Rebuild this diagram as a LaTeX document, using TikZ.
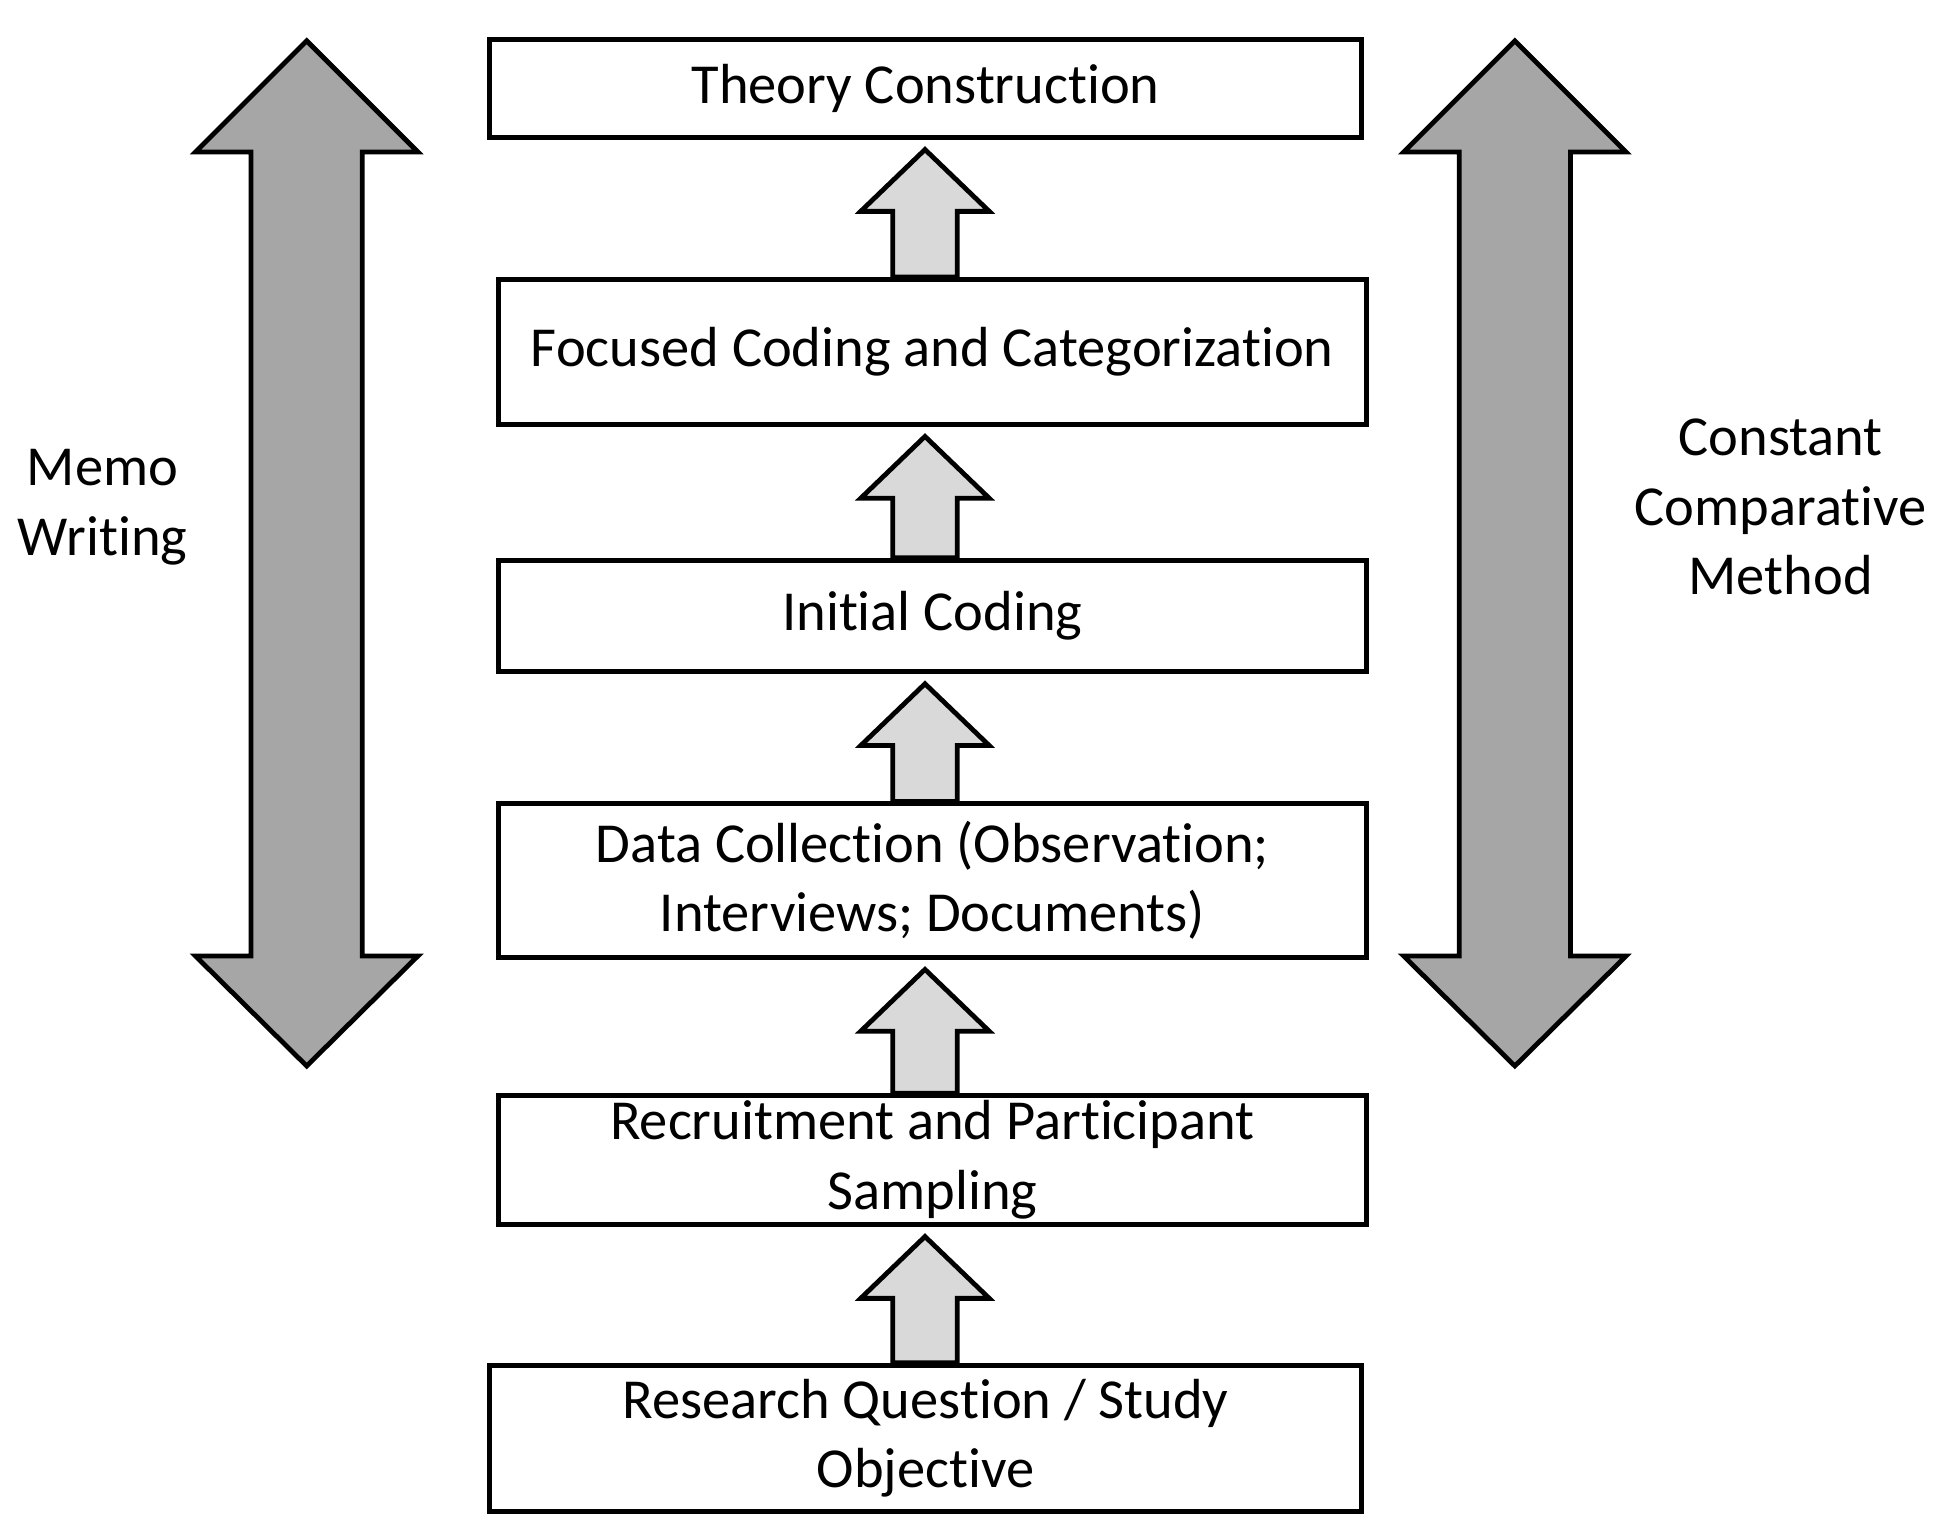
\documentclass[tikz,border=0pt]{standalone}
\usepackage{fontspec}
\setmainfont{Carlito}[Ligatures=NoCommon]
\usetikzlibrary{calc}
\begin{document}
\begin{tikzpicture}[x=0.02cm,y=-0.02cm,
  box/.style={draw,line width=2.2pt,inner sep=0pt,align=center,font=\fontsize{26}{32}\selectfont},
  lbl/.style={align=center,font=\fontsize{26}{32}\selectfont},
  sarr/.style={draw,line width=2.2pt,fill=black!15,line join=miter},
  barr/.style={draw,line width=2.2pt,fill=black!35,line join=miter}]
\useasboundingbox (0,0) rectangle (1568,1234);
\newcommand{\mkbox}[6]{\node[box,minimum width=(#4-#3)*0.02cm,minimum height=(#6-#5)*0.02cm] (#1) at ({(#3+#4)/2},{(#5+#6)/2}) {#2};}
\mkbox{b6}{Theory Construction}{396}{1101}{32}{111}
\mkbox{b5}{Focused Coding and Categorization}{403}{1105}{226}{343}
\mkbox{b4}{Initial Coding}{403}{1105}{453}{543}
\mkbox{b3}{Data Collection (Observation;\\Interviews; Documents)}{403}{1105}{650}{774}
\mkbox{b2}{Recruitment and Participant\\Sampling}{403}{1105}{886}{990}
\mkbox{b1}{Research Question / Study\\Objective}{396}{1101}{1104}{1222}
\foreach \a/\b in {b1/b2,b2/b3,b3/b4,b4/b5,b5/b6}{
 \path let \p1=(\a.north), \p2=(\b.south) in
  [sarr] (748*0.02cm-0.52cm,\y1) -- (748*0.02cm-0.52cm,\y2-1.16cm) -- (748*0.02cm-1.04cm,\y2-1.16cm)
   -- (748*0.02cm,\y2-0.16cm) -- (748*0.02cm+1.04cm,\y2-1.16cm) -- (748*0.02cm+0.52cm,\y2-1.16cm)
   -- (748*0.02cm+0.52cm,\y1) -- cycle;}
\foreach \c in {248,1225}{
 \draw[barr] (\c-45,123) -- (\c-90,123) -- (\c,33) -- (\c+90,123) -- (\c+45,123)
   -- (\c+45,773) -- (\c+90,773) -- (\c,862) -- (\c-90,773) -- (\c-45,773) -- cycle;}
\node[lbl] (mw) at (83,410) {Memo\\Writing};
\node[lbl] (ccm) at (1440,410) {Constant\\Comparative\\Method};
\end{tikzpicture}
\end{document}
